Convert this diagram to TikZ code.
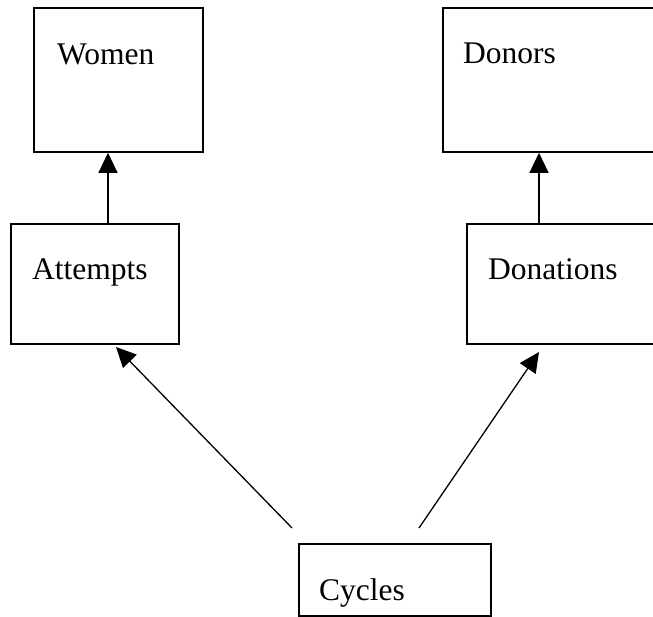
\documentclass[tikz,border=0pt]{standalone}
\usepackage{fontspec}
\setmainfont{Liberation Serif}
\usetikzlibrary{arrows.meta}
\begin{document}
\begin{tikzpicture}[x=1pt,y=-1pt,
  box/.style={draw=black, line width=1.6pt, rectangle, inner sep=0pt},
  lbl/.style={font=\fontsize{31.5}{36}\selectfont, inner sep=0pt, anchor=base west},
  arr/.style={line width=1.3pt, -{Triangle[length=20pt,width=19pt]}},
  ln/.style={line width=1.3pt}]
\useasboundingbox (0,0) rectangle (653,617);
\clip (0,0) rectangle (653,617);
\fill[white] (0,0) rectangle (653,617);
\node[box, minimum width=169pt, minimum height=144pt] (women) at (118.5,80) {};
\node[box, minimum width=168pt, minimum height=120pt] (attempts) at (95,284) {};
\node[box, minimum width=240pt, minimum height=144pt] (donors) at (563,80) {};
\node[box, minimum width=240pt, minimum height=120pt] (donations) at (587,284) {};
\node[box, minimum width=192pt, minimum height=72pt] (cycles) at (395,580) {};
\node[lbl] (womenT) at (57,65) {Women};
\node[lbl] (donorsT) at (463,64) {Donors};
\node[lbl] (attemptsT) at (32,280) {Attempts};
\node[lbl] (donationsT) at (488,280) {Donations};
\node[lbl] (cyclesT) at (319,600) {Cycles};
\coordinate (ax1) at (108,0);
\coordinate (ax2) at (539,0);
\coordinate (c1) at (292,528);
\coordinate (c2) at (419,528);
\coordinate (t1) at (116,347);
\coordinate (t2) at (539,352);
\draw[arr] (attempts.north -| ax1) -- (women.south -| ax1);
\draw[arr] (donations.north -| ax2) -- (donors.south -| ax2);
\draw[arr] (c1) -- (t1);
\draw[arr] (c2) -- (t2);
\end{tikzpicture}
\end{document}
